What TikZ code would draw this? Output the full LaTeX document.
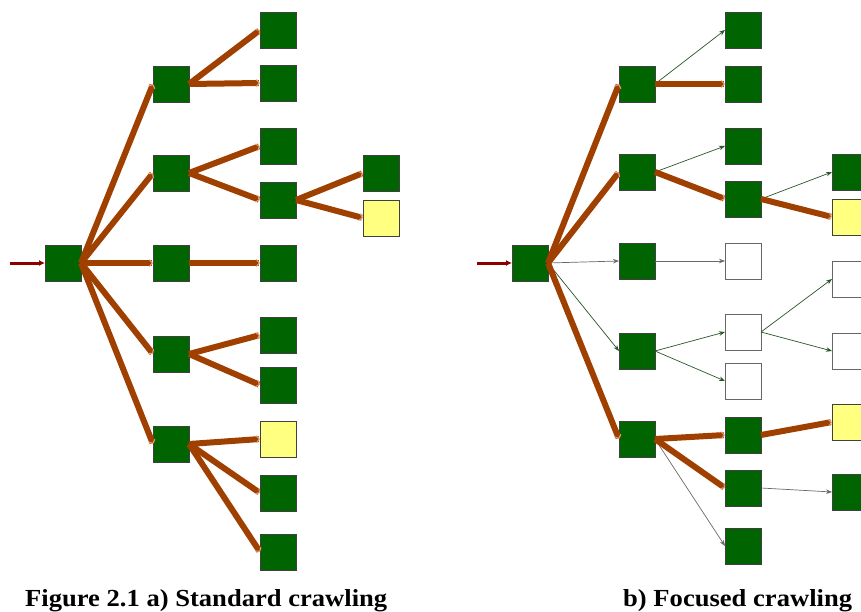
\documentclass[tikz,border=0pt]{standalone}
\usepackage{fontspec}
\usepackage{graphicx}
\setmainfont{Liberation Serif}
\usetikzlibrary{arrows.meta}

\definecolor{boxgreen}{RGB}{0,100,0}
\definecolor{boxyellow}{RGB}{255,255,128}
\definecolor{linkbrown}{RGB}{160,64,0}
\definecolor{tipbrown}{RGB}{226,165,125}
\definecolor{entryred}{RGB}{140,0,0}
\definecolor{thingreen}{RGB}{40,85,40}
\definecolor{thingray}{RGB}{105,105,105}

\tikzset{
  page/.style={draw=black!75, line width=0.8pt, minimum size=36pt, inner sep=0pt, outer sep=0pt},
  relevant/.style={page, fill=boxgreen},
  targetpage/.style={page, fill=boxyellow},
  unvisited/.style={page, fill=white, draw=black!60},
  crawled/.style={draw=linkbrown, line width=6pt,
    -{Straight Barb[length=3pt,width=7pt,line width=1pt,color=tipbrown]}},
  skipped/.style={draw=thingreen, line width=0.7pt,
    -{Stealth[length=6pt,width=4.5pt]}},
  grayskip/.style={skipped, draw=thingray},
  entry/.style={draw=entryred, line width=3pt, -{Latex[length=6pt,width=6pt]}},
  caption/.style={anchor=base west, inner sep=0pt,
    font=\bfseries\fontsize{24.5}{27}\selectfont},
}

\begin{document}
\begin{tikzpicture}[x=1pt, y=-1pt]
\clip (0,0) rectangle (861,612);
\fill[white] (0,0) rectangle (861,612);

% ---------------- a) standard crawling ----------------
\node[relevant] (rA) at (63,263) {};
\node[relevant] (a1) at (171,84) {};
\node[relevant] (a2) at (171,173) {};
\node[relevant] (a3) at (171,263) {};
\node[relevant] (a4) at (171,354) {};
\node[relevant] (a5) at (171,444) {};
\node[relevant] (a11) at (278,30) {};
\node[relevant] (a12) at (278,83) {};
\node[relevant] (a21) at (278,146) {};
\node[relevant] (a22) at (278,200) {};
\node[relevant] (a31) at (278,263) {};
\node[relevant] (a41) at (278,335) {};
\node[relevant] (a42) at (278,385) {};
\node[targetpage] (a51) at (278,439) {};
\node[relevant] (a52) at (278,493) {};
\node[relevant] (a53) at (278,552) {};
\node[relevant] (a221) at (381,173) {};
\node[targetpage] (a222) at (381,218) {};

\coordinate (inA) at (10,263);
\draw[entry] (inA) -- (rA.west);
\foreach \t in {a1,a2,a3,a4,a5}
  \draw[crawled] (rA.east) -- (\t.west);
\draw[crawled] (a1.east) -- (a11.west);
\draw[crawled] (a1.east) -- (a12.west);
\draw[crawled] (a2.east) -- (a21.west);
\draw[crawled] (a2.east) -- (a22.west);
\draw[crawled] (a22.east) -- (a221.west);
\draw[crawled] (a22.east) -- (a222.west);
\draw[crawled] (a3.east) -- (a31.west);
\draw[crawled] (a4.east) -- (a41.west);
\draw[crawled] (a4.east) -- (a42.west);
\draw[crawled] (a5.east) -- (a51.west);
\draw[crawled] (a5.east) -- (a52.west);
\draw[crawled] (a5.east) -- (a53.west);

% ---------------- b) focused crawling ----------------
\node[relevant] (rB) at (530,263) {};
\node[relevant] (b1) at (637,84) {};
\node[relevant] (b2) at (637,172) {};
\node[relevant] (b3) at (637,261) {};
\node[relevant] (b4) at (637,351) {};
\node[relevant] (b5) at (637,439) {};
\node[relevant] (b11) at (743,30) {};
\node[relevant] (b12) at (743,84) {};
\node[relevant] (b21) at (743,146) {};
\node[relevant] (b22) at (743,199) {};
\node[unvisited] (b31) at (743,261) {};
\node[unvisited] (b41) at (743,332) {};
\node[unvisited] (b42) at (743,381) {};
\node[relevant] (b51) at (743,435) {};
\node[relevant] (b52) at (743,488) {};
\node[relevant] (b53) at (743,546) {};
\node[relevant] (b221) at (850,172) {};
\node[targetpage] (b222) at (850,217) {};
\node[unvisited] (b411) at (850,279) {};
\node[unvisited] (b412) at (850,351) {};
\node[targetpage] (b511) at (850,422) {};
\node[relevant] (b521) at (850,492) {};

\coordinate (inB) at (477,263);
\draw[entry] (inB) -- (rB.west);
\draw[grayskip] (rB.east) -- (b3.west);
\draw[skipped] (rB.east) -- (b4.west);
\draw[crawled] (rB.east) -- (b1.west);
\draw[crawled] (rB.east) -- (b2.west);
\draw[crawled] (rB.east) -- (b5.west);

\draw[skipped] (b1.east) -- (b11.west);
\draw[crawled] (b1.east) -- (b12.west);
\draw[skipped] (b2.east) -- (b21.west);
\draw[crawled] (b2.east) -- (b22.west);
\draw[skipped] (b22.east) -- (b221.west);
\draw[crawled] (b22.east) -- (b222.west);
\draw[grayskip] (b3.east) -- (b31.west);
\draw[skipped] (b4.east) -- (b41.west);
\draw[skipped] (b4.east) -- (b42.west);
\draw[skipped] (b41.east) -- (b411.west);
\draw[skipped] (b41.east) -- (b412.west);
\draw[grayskip, {Stealth[length=5pt,width=4pt]}-{Stealth[length=6pt,width=4.5pt]}] (b5.east) -- (b53.west);
\draw[crawled] (b5.east) -- (b51.west);
\draw[crawled] (b5.east) -- (b52.west);
\draw[crawled] (b51.east) -- (b511.west);
\draw[grayskip] (b52.east) -- (b521.west);

% ---------------- captions ----------------
\node[caption] (capA) at (25,606.5) {\scalebox{1.085}[1]{Figure 2.1 a) Standard crawling}};
\node[caption] (capB) at (623,606.5) {\scalebox{1.085}[1]{b) Focused crawling}};
\end{tikzpicture}
\end{document}
